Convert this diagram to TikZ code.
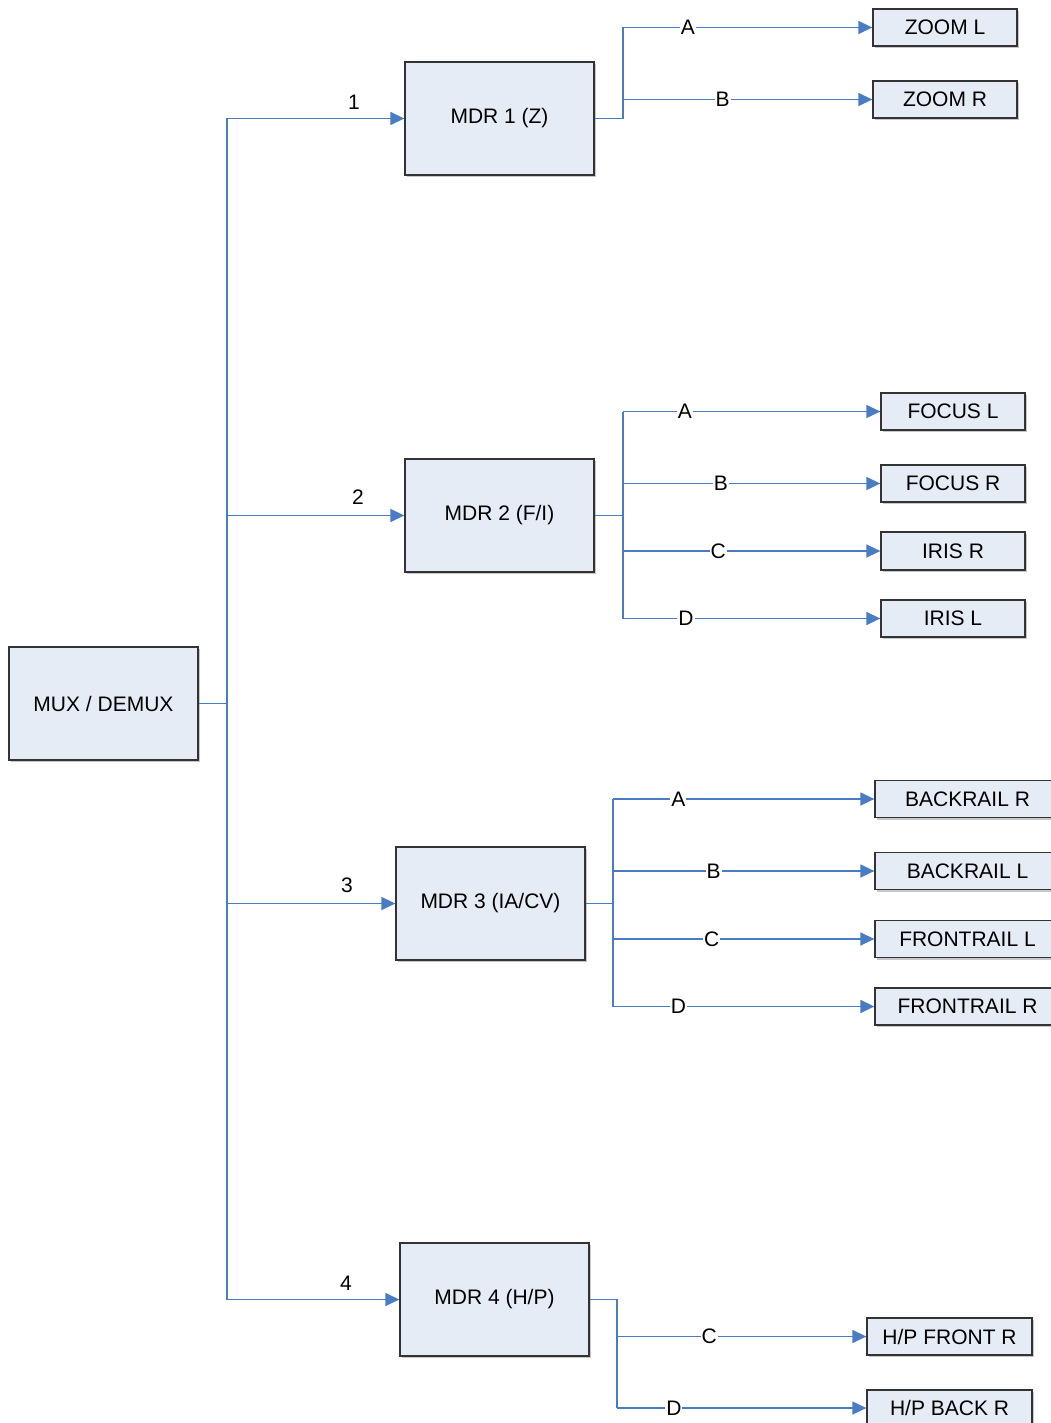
\documentclass[tikz,border=0pt]{standalone}
\usepackage{fontspec}
\setmainfont{Liberation Sans}
\usetikzlibrary{arrows.meta}
\definecolor{boxfill}{HTML}{E6ECF6}
\definecolor{boxdraw}{HTML}{333333}
\definecolor{wire}{HTML}{4A7CC4}
\tikzset{
  blk/.style={draw=boxdraw, fill=boxfill, line width=1.3pt, minimum width=189pt, minimum height=113pt, inner sep=0pt,
    font=\fontsize{21}{25}\selectfont, append after command={}},
  outbox/.style={draw=boxdraw, fill=boxfill, line width=1.3pt, minimum width=144pt, minimum height=37pt, inner sep=0pt,
    font=\fontsize{21}{25}\selectfont},
  wireline/.style={draw=wire, line width=1.4pt},
  arr/.style={wireline, -{Triangle[length=14pt,width=13pt]}},
  lbl/.style={fill=white, inner sep=1pt, font=\fontsize{21}{25}\selectfont},
  num/.style={font=\fontsize{21}{25}\selectfont},
  shadowbox/.style={fill=black!25, draw=none}
}
\begin{document}
\begin{tikzpicture}[x=1pt,y=-1pt]
\clip (0,0) rectangle (1051,1423);
\fill[white] (0,0) rectangle (1051,1423);
% shadows
\foreach \a/\b/\c/\d in {9/647/198/760, 405/62/594/175, 405/459/594/572, 396/847/585/960, 400/1243/589/1356,
  873/9/1017/46, 873/81/1017/118, 881/393/1025/430, 881/465/1025/502, 881/532/1025/570, 881/600/1025/637,
  875/780/1060/818, 875/852/1060/890, 875/920/1060/958, 875/988/1060/1025, 867/1318/1032/1355, 867/1390/1032/1430}
  \fill[black!22] (\a+2,\b+2) rectangle (\c+2,\d+2);
% main boxes
\node[blk] (mux) at (103.5,703.5) {MUX / DEMUX};
\node[blk] (m1) at (499.5,118.5) {MDR 1 (Z)};
\node[blk] (m2) at (499.5,515.5) {MDR 2 (F/I)};
\node[blk] (m3) at (490.5,903.5) {MDR 3 (IA/CV)};
\node[blk] (m4) at (494.5,1299.5) {MDR 4 (H/P)};
% output boxes
\node[outbox] (zl) at (945,27.5) {ZOOM L};
\node[outbox] (zr) at (945,99.5) {ZOOM R};
\node[outbox] (fl) at (953,411.5) {FOCUS L};
\node[outbox] (fr) at (953,483.5) {FOCUS R};
\node[outbox, minimum height=38pt] (ir) at (953,551) {IRIS R};
\node[outbox] (il) at (953,618.5) {IRIS L};
\node[outbox, minimum width=185pt] (br) at (967.5,799) {BACKRAIL R};
\node[outbox, minimum width=185pt] (bl) at (967.5,871) {BACKRAIL L};
\node[outbox, minimum width=185pt] (fnl) at (967.5,939) {FRONTRAIL L};
\node[outbox, minimum width=185pt] (fnr) at (967.5,1006.5) {FRONTRAIL R};
\node[outbox, minimum width=165pt] (hf) at (949.5,1336.5) {H/P FRONT R};
\node[outbox, minimum width=165pt, minimum height=40pt] (hb) at (949.5,1410) {};
\node[font=\fontsize{21}{25}\selectfont] at (949.5,1408) {H/P BACK R};
% trunk
\coordinate (t0) at (227,703.5);
\draw[wireline] (mux.east) -- (t0);
\draw[wireline] (227,118.5) -- (227,1299.5);
\draw[arr] (227,118.5) -- (m1.west);
\draw[arr] (227,515.5) -- (m2.west);
\draw[arr] (227,903.5) -- (m3.west);
\draw[arr] (227,1299.5) -- (m4.west);
\node[num] at (354,102) {1};
\node[num] at (358,497) {2};
\node[num] at (347,885) {3};
\node[num] at (346,1283) {4};
% MDR1 branches
\draw[wireline] (m1.east) -- (623,118.5) -- (623,27.5);
\draw[arr] (623,27.5) -- node[lbl, pos=0.26] {A} (zl.west);
\draw[arr] (623,99.5) -- node[lbl, pos=0.40] {B} (zr.west);
% MDR2 branches
\draw[wireline] (m2.east) -- (623,515.5);
\draw[wireline] (623,411.5) -- (623,618.5);
\draw[arr] (623,411.5) -- node[lbl, pos=0.24] {A} (fl.west);
\draw[arr] (623,483.5) -- node[lbl, pos=0.38] {B} (fr.west);
\draw[arr] (623,551) -- node[lbl, pos=0.37] {C} (ir.west);
\draw[arr] (623,618.5) -- node[lbl, pos=0.245] {D} (il.west);
% MDR3 branches
\draw[wireline] (m3.east) -- (613,903.5);
\draw[wireline] (613,799) -- (613,1006.5);
\draw[arr] (613,799) -- node[lbl, pos=0.25] {A} (br.west);
\draw[arr] (613,871) -- node[lbl, pos=0.385] {B} (bl.west);
\draw[arr] (613,939) -- node[lbl, pos=0.378] {C} (fnl.west);
\draw[arr] (613,1006.5) -- node[lbl, pos=0.25] {D} (fnr.west);
% MDR4 branches
\draw[wireline] (m4.east) -- (617,1299.5) -- (617,1408);
\draw[arr] (617,1336.5) -- node[lbl, pos=0.37] {C} (hf.west);
\draw[arr] (617,1408) -- node[lbl, pos=0.228] {D} (hb.west |- 0,1408);
\end{tikzpicture}
\end{document}
